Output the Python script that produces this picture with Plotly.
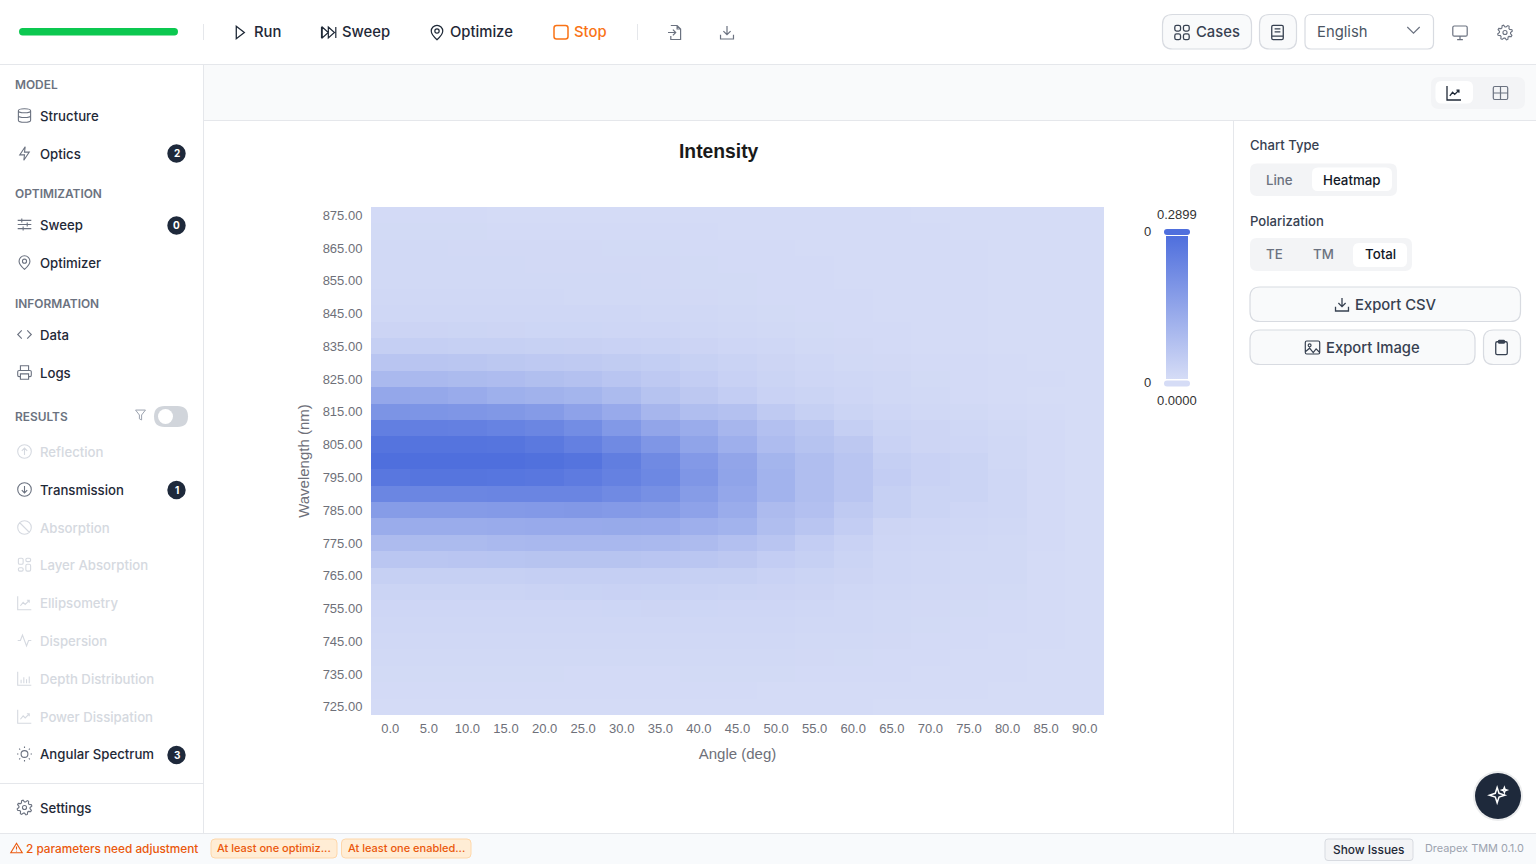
import math
import re
import plotly.graph_objects as go

# ---------- chart data ----------
angles_deg = [0, 5, 10, 15, 20, 25, 30, 35, 40, 45, 50, 55, 60, 65, 70, 75, 80, 85, 90]
wavelengths_nm = [875, 870, 865, 860, 855, 850, 845, 840, 835, 830, 825, 820, 815, 810, 805, 800,
                  795, 790, 785, 780, 775, 770, 765, 760, 755, 750, 745, 740, 735, 730, 725]
# intensity x 1000, one row per wavelength (top to bottom), one value per angle
intensity_milli = [
    [4, 4, 4, 3, 3, 3, 3, 3, 3, 2, 2, 2, 2, 2, 1, 1, 1, 0, 0],
    [6, 6, 6, 5, 5, 5, 5, 4, 4, 3, 3, 3, 2, 2, 2, 1, 1, 1, 0],
    [8, 8, 7, 7, 7, 7, 6, 6, 5, 4, 4, 3, 3, 2, 2, 2, 1, 1, 0],
    [8, 8, 8, 8, 7, 7, 7, 7, 6, 5, 4, 4, 3, 3, 2, 2, 1, 1, 0],
    [9, 9, 9, 9, 8, 8, 8, 7, 6, 6, 5, 4, 3, 3, 2, 2, 1, 1, 0],
    [11, 11, 10, 10, 10, 9, 9, 8, 7, 6, 5, 5, 4, 3, 2, 2, 1, 1, 0],
    [14, 14, 14, 13, 13, 12, 12, 11, 10, 8, 6, 5, 4, 3, 3, 2, 1, 1, 0],
    [20, 20, 19, 18, 17, 17, 16, 15, 13, 10, 8, 6, 5, 4, 3, 2, 1, 1, 0],
    [34, 34, 33, 32, 30, 29, 27, 24, 20, 16, 12, 9, 7, 5, 3, 2, 1, 1, 0],
    [60, 60, 58, 54, 50, 47, 43, 38, 30, 24, 18, 12, 9, 7, 5, 4, 2, 1, 0],
    [92, 92, 88, 84, 78, 71, 61, 50, 40, 28, 22, 16, 13, 10, 6, 5, 3, 2, 0],
    [140, 138, 130, 118, 112, 105, 88, 66, 53, 40, 26, 21, 16, 10, 8, 5, 3, 1, 0],
    [192, 190, 185, 182, 172, 153, 132, 100, 79, 71, 47, 32, 21, 16, 10, 8, 5, 2, 0],
    [248, 247, 245, 237, 229, 211, 179, 145, 127, 100, 74, 58, 34, 21, 18, 13, 8, 4, 1],
    [277, 277, 276, 274, 264, 245, 219, 185, 150, 119, 84, 66, 53, 26, 18, 16, 10, 4, 1],
    [290, 290, 290, 290, 285, 277, 250, 219, 177, 145, 105, 79, 61, 34, 26, 21, 10, 5, 1],
    [269, 274, 274, 272, 268, 258, 242, 224, 185, 150, 110, 79, 61, 40, 26, 21, 13, 5, 1],
    [229, 229, 230, 232, 232, 232, 219, 203, 171, 140, 110, 79, 61, 32, 21, 21, 13, 5, 1],
    [171, 172, 174, 176, 178, 180, 176, 171, 153, 127, 87, 74, 47, 32, 21, 16, 13, 5, 1],
    [127, 128, 128, 130, 132, 132, 134, 132, 119, 110, 79, 61, 40, 18, 16, 13, 10, 5, 1],
    [87, 88, 88, 92, 96, 96, 95, 92, 87, 74, 61, 40, 26, 16, 13, 10, 8, 4, 1],
    [58, 58, 60, 62, 64, 65, 64, 61, 58, 53, 40, 32, 21, 13, 10, 8, 8, 3, 1],
    [32, 32, 33, 33, 34, 35, 35, 34, 32, 32, 26, 21, 18, 13, 10, 8, 8, 3, 1],
    [22, 22, 22, 22, 24, 25, 26, 25, 24, 22, 20, 18, 14, 11, 8, 7, 6, 2, 0],
    [15, 15, 15, 15, 15, 16, 17, 18, 17, 16, 15, 13, 11, 9, 7, 6, 5, 2, 0],
    [12, 12, 12, 12, 12, 12, 12, 13, 13, 13, 12, 11, 10, 8, 6, 5, 4, 2, 0],
    [10, 10, 10, 10, 10, 10, 10, 10, 10, 10, 10, 9, 8, 7, 5, 4, 3, 2, 0],
    [8, 8, 8, 8, 8, 8, 8, 8, 8, 8, 8, 7, 6, 5, 4, 3, 2, 1, 0],
    [6, 6, 6, 6, 6, 5, 5, 5, 6, 6, 6, 5, 5, 4, 3, 2, 2, 1, 0],
    [4, 4, 4, 4, 4, 4, 4, 4, 4, 4, 3, 3, 3, 3, 2, 2, 1, 1, 0],
    [3, 3, 3, 3, 3, 2, 2, 2, 2, 2, 2, 2, 2, 1, 1, 1, 1, 0, 0],
]
intensity_max = 0.2899
color_low = "#D5DCF6"
color_high = "#4F6FDD"
x_ticks = angles_deg
y_ticks = [875, 865, 855, 845, 835, 825, 815, 805, 795, 785, 775, 765, 755, 745, 735, 725]

intensity = [[v / 1000 for v in row] for row in intensity_milli]

W, H = 1536, 864
UI = "Inter"
CHART = "Liberation Sans"
DARK = "#1F2937"
MUTED = "#6B7280"
DISABLED = "#D5D9E0"
BORDER = "#D8DBE1"
HAIR = "#E5E7EB"
ORANGE = "#F97316"

shapes = []
annotations = []


def text(x, y, s, size=14, color=DARK, weight=400, anchor="left", font=UI):
    dx = {"left": -1, "center": 0, "right": 1}[anchor]
    annotations.append(dict(x=x + dx, y=y - 0.6, xref="x2", yref="y2", text=s, showarrow=False,
                            xanchor=anchor, yanchor="middle", borderpad=0,
                            font=dict(family=font, size=size, color=color, weight=weight)))


def rrect_path(x0, y0, x1, y1, r):
    return (f"M{x0+r} {y0} L{x1-r} {y0} Q{x1} {y0} {x1} {y0+r} L{x1} {y1-r} Q{x1} {y1} {x1-r} {y1} "
            f"L{x0+r} {y1} Q{x0} {y1} {x0} {y1-r} L{x0} {y0+r} Q{x0} {y0} {x0+r} {y0} Z")


def box(x0, y0, x1, y1, r=0, fill="rgba(0,0,0,0)", line=None, w=1):
    shapes.append(dict(type="path", xref="x2", yref="y2", path=rrect_path(x0, y0, x1, y1, r),
                       fillcolor=fill, line=dict(color=line or "rgba(0,0,0,0)", width=w if line else 0)))


def hline(x0, x1, y, color=HAIR, w=1):
    shapes.append(dict(type="line", xref="x2", yref="y2", x0=x0, x1=x1, y0=y, y1=y,
                       line=dict(color=color, width=w)))


def vline(x, y0, y1, color=HAIR, w=1):
    shapes.append(dict(type="line", xref="x2", yref="y2", x0=x, x1=x, y0=y0, y1=y1,
                       line=dict(color=color, width=w)))


def disc(cx, cy, r, fill, line=None, w=1):
    shapes.append(dict(type="circle", xref="x2", yref="y2", x0=cx-r, x1=cx+r, y0=cy-r, y1=cy+r,
                       fillcolor=fill, line=dict(color=line or "rgba(0,0,0,0)", width=w if line else 0)))


def circ(cx, cy, rx, ry=None):
    ry = rx if ry is None else ry
    k = 0.5523
    return (f"M{cx-rx} {cy} C{cx-rx} {cy-k*ry} {cx-k*rx} {cy-ry} {cx} {cy-ry} "
            f"C{cx+k*rx} {cy-ry} {cx+rx} {cy-k*ry} {cx+rx} {cy} "
            f"C{cx+rx} {cy+k*ry} {cx+k*rx} {cy+ry} {cx} {cy+ry} "
            f"C{cx-k*rx} {cy+ry} {cx-rx} {cy+k*ry} {cx-rx} {cy} Z")


def gear_path():
    pts = []
    teeth = 8
    for i in range(teeth * 4):
        a = 2 * math.pi * i / (teeth * 4) - math.pi / 8
        r = 11 if i % 4 in (0, 1) else 8.2
        pts.append((12 + r * math.cos(a), 12 + r * math.sin(a)))
    return "M" + " L".join(f"{a:.2f} {b:.2f}" for a, b in pts) + " Z " + circ(12, 12, 3)


def icon(d, cx, cy, s=0.66, color=MUTED, w=1.2, fill="rgba(0,0,0,0)"):
    tokens = re.findall(r"[MLCQZ]|-?\d+\.?\d*", d)
    out = []
    is_x = True
    for t in tokens:
        if t in "MLCQZ":
            out.append(t)
            is_x = True
        else:
            v = float(t)
            out.append(f"{(cx + (v - 12) * s) if is_x else (cy + (v - 12) * s):.2f}")
            is_x = not is_x
    shapes.append(dict(type="path", xref="x2", yref="y2", path=" ".join(out),
                       fillcolor=fill, line=dict(color=color, width=w)))


I_PLAY = "M6 2 L19 12 L6 22 Z"
I_SKIP = "M1 4 L1 20 M2 4 L11 12 L2 20 Z M11 4 L20 12 L11 20 Z M22 4 L22 20"
I_PIN = "M12 22 C12 22 20 15 20 10 C20 5.6 16.4 2 12 2 C7.6 2 4 5.6 4 10 C4 15 12 22 12 22 Z " + circ(12, 10, 3)
I_BOLT = "M13 2 L5 14 L12 14 L11 22 L19 10 L12 10 Z"
I_DB = (circ(12, 5, 9, 3) + " M3 5 L3 19 C3 20.7 7 22 12 22 C17 22 21 20.7 21 19 L21 5 "
        "M3 12 C3 13.7 7 15 12 15 C17 15 21 13.7 21 12")
I_SLIDERS = "M2 6 L22 6 M2 12 L22 12 M2 18 L22 18 M8 3 L8 9 M16 9 L16 15 M10 15 L10 21"
I_CODE = "M8 6 L2 12 L8 18 M16 6 L22 12 L16 18"
I_PRINT = ("M6 9 L6 2 L18 2 L18 9 M6 18 L4 18 C2.9 18 2 17.1 2 16 L2 11 C2 9.9 2.9 9 4 9 L20 9 "
           "C21.1 9 22 9.9 22 11 L22 16 C22 17.1 21.1 18 20 18 L18 18 M6 14 L18 14 L18 22 L6 22 Z")
I_UP = circ(12, 12, 10) + " M12 17 L12 7 M8 11 L12 7 L16 11"
I_DOWN = circ(12, 12, 10) + " M12 7 L12 17 M8 13 L12 17 L16 13"
I_BAN = circ(12, 12, 10) + " M5 5 L19 19"
I_LAYERS = (rrect_path(3, 2, 10, 11, 2) + " " + rrect_path(14, 2, 21, 7, 2) + " " +
            rrect_path(3, 16, 10, 21, 2) + " " + rrect_path(14, 11, 21, 21, 2))
I_CHART = "M2 2 L2 22 L22 22 M6 16 L10 11 L13 14 L19 8 M15.5 8 L19 8 L19 11.5"
I_ACT = "M22 12 L18 12 L15 20 L9 4 L6 12 L2 12"
I_BARS = "M2 2 L2 22 L22 22 M7 19 L7 14 M11 19 L11 10 M15 19 L15 13 M19 19 L19 9"
I_SUN = (circ(12, 12, 5) + " M12 1 L12 3 M12 21 L12 23 M1 12 L3 12 M21 12 L23 12 "
         "M4.2 4.2 L5.6 5.6 M18.4 18.4 L19.8 19.8 M4.2 19.8 L5.6 18.4 M18.4 5.6 L19.8 4.2")
I_FUNNEL = "M3 3 L21 3 L14 12 L14 21 L10 19 L10 12 Z"
I_GRID = (rrect_path(2, 2, 10, 10, 2.5) + " " + rrect_path(14, 2, 22, 10, 2.5) + " " +
          rrect_path(2, 14, 10, 22, 2.5) + " " + rrect_path(14, 14, 22, 22, 2.5))
I_BOOK = rrect_path(4, 2, 20, 22, 2) + " M8 7 L16 7 M8 11 L16 11 M4 17 L20 17"
I_MON = rrect_path(2, 3, 22, 17, 2) + " M8 22 L16 22 M12 17 L12 22"
I_IMPORT = ("M6 2 L15 2 L20 7 L20 22 L6 22 L6 17 M15 2 L15 7 L20 7 M2 12 L13 12 M9 8 L13 12 L9 16")
I_DL = "M21 15 L21 21 L3 21 L3 15 M7 10 L12 15 L17 10 M12 15 L12 3"
I_IMG = rrect_path(2, 3, 22, 21, 2) + " " + circ(8, 9, 2) + " M2 18 L8 13 L13 19 L17 14 L22 19"
I_CLIP = rrect_path(4, 4, 20, 22, 2) + " " + rrect_path(8, 2, 16, 6, 1)
I_TABLE = rrect_path(2, 3, 22, 21, 2) + " M2 12 L22 12 M12 3 L12 21"
I_WARN = "M12 3 L23 21 L1 21 Z M12 9 L12 15 M12 17.5 L12 18.5"
I_STAR = "M11 2 L13.2 8.8 L20 11 L13.2 13.2 L11 20 L8.8 13.2 L2 11 L8.8 8.8 Z M19.5 2 L20.3 4.2 L22.5 5 L20.3 5.8 L19.5 8 L18.7 5.8 L16.5 5 L18.7 4.2 Z"

# ---------- page regions ----------
box(204, 65, W, 120, 0, "#F9FAFB")
box(0, 833, W, H, 0, "#F8FAFC")
hline(0, W, 64.5)
hline(204, W, 120.5)
hline(0, W, 833.5)
vline(203.5, 65, 833)
vline(1233.5, 121, 833)
hline(0, 203, 783.5)

# ---------- top bar ----------
box(19, 28, 178, 35.5, 3.7, "#0CC850")
vline(203.5, 24, 40)
vline(637.5, 24, 40)
icon(I_PLAY, 240, 32.5, 0.62, DARK, 1.3)
text(254, 33, "Run", 14.8, DARK, 500)
icon(I_SKIP, 329, 32.5, 0.68, DARK, 1.2)
text(342, 33, "Sweep", 14.8, DARK, 500)
icon(I_PIN, 437, 32.5, 0.72, DARK, 1.2)
text(450, 33, "Optimize", 14.8, DARK, 500)
box(554, 25.5, 568, 39, 2.5, "rgba(0,0,0,0)", ORANGE, 1.5)
text(574, 33, "Stop", 14.8, ORANGE, 500)
icon(I_IMPORT, 675, 32.5, 0.7, MUTED, 1.2)
icon(I_DL, 727, 32.5, 0.72, MUTED, 1.2)

box(1162.5, 14.5, 1251.5, 49, 10, "#F9FAFB", BORDER, 1.2)
icon(I_GRID, 1182, 32.5, 0.72, "#374151", 1.3)
text(1196, 33, "Cases", 14.8, "#374151", 500)
box(1259.5, 14.5, 1296.5, 49, 10, "#F9FAFB", BORDER, 1.2)
icon(I_BOOK, 1277.5, 32.5, 0.72, "#374151", 1.3)
box(1305, 14.5, 1433.5, 49, 6, "#FFFFFF", BORDER, 1.2)
text(1317, 33, "English", 14.8, "#4B5563", 400)
icon("M2 8 L12 18 L22 8", 1413.5, 29.5, 0.62, "#6B7280", 1.2)
icon(I_MON, 1460, 32.5, 0.72, MUTED, 1.2)
icon(gear_path(), 1505, 32.5, 0.68, MUTED, 1.1)

# ---------- sidebar ----------
for label_text, y in [("MODEL", 85.5), ("OPTIMIZATION", 194.5), ("INFORMATION", 304.5), ("RESULTS", 417.5)]:
    text(15, y, label_text, 11.9, MUTED, 600)

nav = [
    ("Structure", 116.5, I_DB, True), ("Optics", 154.5, I_BOLT, True),
    ("Sweep", 225.5, I_SLIDERS, True), ("Optimizer", 263.5, I_PIN, True),
    ("Data", 335.5, I_CODE, True), ("Logs", 373.5, I_PRINT, True),
    ("Reflection", 452.5, I_UP, False), ("Transmission", 490.5, I_DOWN, True),
    ("Absorption", 528.5, I_BAN, False), ("Layer Absorption", 566, I_LAYERS, False),
    ("Ellipsometry", 604, I_CHART, False), ("Dispersion", 641.5, I_ACT, False),
    ("Depth Distribution", 679.5, I_BARS, False), ("Power Dissipation", 717.5, I_CHART, False),
    ("Angular Spectrum", 755, I_SUN, True), ("Settings", 808.5, gear_path(), True),
]
for name, y, ic, active in nav:
    text(40, y, name, 13.2, DARK if active else DISABLED, 500)
    icon(ic, 24.5, y - 1, 0.68, MUTED if active else DISABLED, 1.1)

for n, y in [("2", 153.5), ("0", 225.5), ("1", 490), ("3", 755)]:
    disc(176.5, y, 9.2, "#1E293B")
    text(176.5, y + 0.4, n, 10, "#FFFFFF", 700, "center")

icon(I_FUNNEL, 140.5, 415, 0.55, "#9CA3AF", 1)
box(154, 406, 188, 427, 10.5, "#D1D5DB")
disc(165.5, 416.5, 7.5, "#FFFFFF")

# ---------- view switch ----------
box(1431, 77, 1525, 109, 8, "#F3F4F6")
box(1435.5, 81, 1473, 103.5, 6, "#FFFFFF")
icon(I_CHART, 1454, 93, 0.7, "#1F2937", 1.3)
icon(I_TABLE, 1500.5, 93, 0.72, "#6B7280", 1.2)

# ---------- right panel ----------
text(1250, 145.5, "Chart Type", 13.1, "#374151", 500)
box(1250, 163.5, 1397, 196, 7, "#F3F4F6")
box(1312, 167.5, 1392, 191, 6, "#FFFFFF")
text(1279, 180.5, "Line", 13.3, MUTED, 500, "center")
text(1352, 180.5, "Heatmap", 13.3, "#111827", 500, "center")
text(1250, 221.5, "Polarization", 13.1, "#374151", 500)
box(1250, 238, 1412, 271, 7, "#F3F4F6")
box(1353, 243, 1407, 267, 6, "#FFFFFF")
text(1274, 255, "TE", 13.3, MUTED, 500, "center")
text(1323.5, 255, "TM", 13.3, MUTED, 500, "center")
text(1380.5, 255, "Total", 13.3, "#111827", 500, "center")

box(1250, 287, 1520.5, 321.5, 10, "#F9FAFB", BORDER, 1.2)
icon(I_DL, 1342, 304.5, 0.72, "#374151", 1.3)
text(1355, 306, "Export CSV", 14.8, "#374151", 500)
box(1250, 330, 1475, 364.5, 10, "#F9FAFB", BORDER, 1.2)
icon(I_IMG, 1312.5, 347.5, 0.72, "#374151", 1.2)
text(1325.5, 349, "Export Image", 14.8, "#374151", 500)
box(1483.5, 330, 1520.5, 364.5, 10, "#F9FAFB", BORDER, 1.2)
icon(I_CLIP, 1501.5, 347.5, 0.72, "#374151", 1.3)

# assistant button
disc(1498, 796, 25, "rgba(15,23,42,0.08)")
disc(1498, 796, 23, "#1E293B")
icon(I_STAR, 1498, 796, 0.85, "#FFFFFF", 1.5, "rgba(0,0,0,0)")

# ---------- status bar ----------
icon(I_WARN, 16.5, 848, 0.52, "#EA580C", 1.1)
text(26, 850, "2 parameters need adjustment", 11.8, "#EA580C", 500)
box(211, 839, 337, 858, 4, "#FFEDD5", "#FED7AA", 1)
text(217, 849, "At least one optimiz...", 11, "#EA580C", 500)
box(341.5, 839, 471, 858, 4, "#FFEDD5", "#FED7AA", 1)
text(347.5, 849, "At least one enabled...", 11, "#EA580C", 500)
box(1325, 839, 1413, 860.5, 3, "#F3F4F6", BORDER, 1)
text(1368.5, 850, "Show Issues", 11.9, "#1F2937", 500, "center")
text(1524, 849, "Dreapex TMM 0.1.0", 10.9, "#9CA3AF", 400, "right")

# ---------- visual map handles and labels ----------
box(1164, 229, 1190, 235, 3, color_high)
box(1164, 380.5, 1190, 386.5, 3, color_low)
text(1177, 215, "0.2899", 13, "#333333", 400, "center", CHART)
text(1177, 401, "0.0000", 13, "#333333", 400, "center", CHART)
text(1147.5, 232.5, "0", 13, "#333333", 400, "center", CHART)
text(1147.5, 383.5, "0", 13, "#333333", 400, "center", CHART)
text(718.5, 152.5, "Intensity", 19.3, "#1A1A1A", 700, "center", CHART)

# ---------- figure ----------
fig = go.Figure()
fig.add_trace(go.Heatmap(
    x=angles_deg, y=wavelengths_nm, z=intensity, zmin=0, zmax=intensity_max,
    colorscale=[[0, color_low], [1, color_high]], hoverinfo="skip",
    colorbar=dict(x=1166 / W, xanchor="left", xpad=0, y=1 - 236 / H, yanchor="top", ypad=0,
                  len=143 / H, lenmode="fraction", thickness=22, thicknessmode="pixels",
                  outlinewidth=0, borderwidth=0, ticks="", showticklabels=False),
))
fig.add_trace(go.Scatter(x=[0], y=[0], xaxis="x2", yaxis="y2", mode="markers",
                         marker=dict(opacity=0, size=1), showlegend=False, hoverinfo="skip"))
axis_font = dict(family=CHART, size=13, color="#6E7079")
fig.update_layout(
    width=W, height=H, margin=dict(l=0, r=0, t=0, b=0), paper_bgcolor="#FFFFFF",
    plot_bgcolor="rgba(0,0,0,0)",
    showlegend=False, shapes=shapes, annotations=annotations,
    xaxis=dict(domain=[371 / W, 1104 / W], range=[-2.5, 92.5], tickmode="array", tickvals=x_ticks,
               tickformat=".1f", ticks="outside", ticklen=1, tickcolor="rgba(0,0,0,0)", tickfont=axis_font,
               showgrid=False, zeroline=False, showline=False, automargin=False, tickangle=0, fixedrange=True,
               title=dict(text="Angle (deg)", standoff=13,
                          font=dict(family=CHART, size=15, color="#6E7079"))),
    yaxis=dict(domain=[1 - 715 / H, 1 - 207 / H], range=[722.5, 877.5], tickmode="array", tickvals=y_ticks,
               tickformat=".2f", ticks="outside", ticklen=5, tickcolor="rgba(0,0,0,0)", tickfont=axis_font,
               showgrid=False, zeroline=False, showline=False, automargin=False, fixedrange=True,
               title=dict(text="Wavelength (nm)", standoff=9,
                          font=dict(family=CHART, size=15, color="#6E7079"))),
    xaxis2=dict(domain=[0, 1], range=[0, W], visible=False, anchor="y2", fixedrange=True),
    yaxis2=dict(domain=[0, 1], range=[H, 0], visible=False, anchor="x2", fixedrange=True),
)
fig.write_html("out.html", config=dict(displayModeBar=False),
               post_script="document.body.style.margin='0';document.body.style.overflow='hidden';")
